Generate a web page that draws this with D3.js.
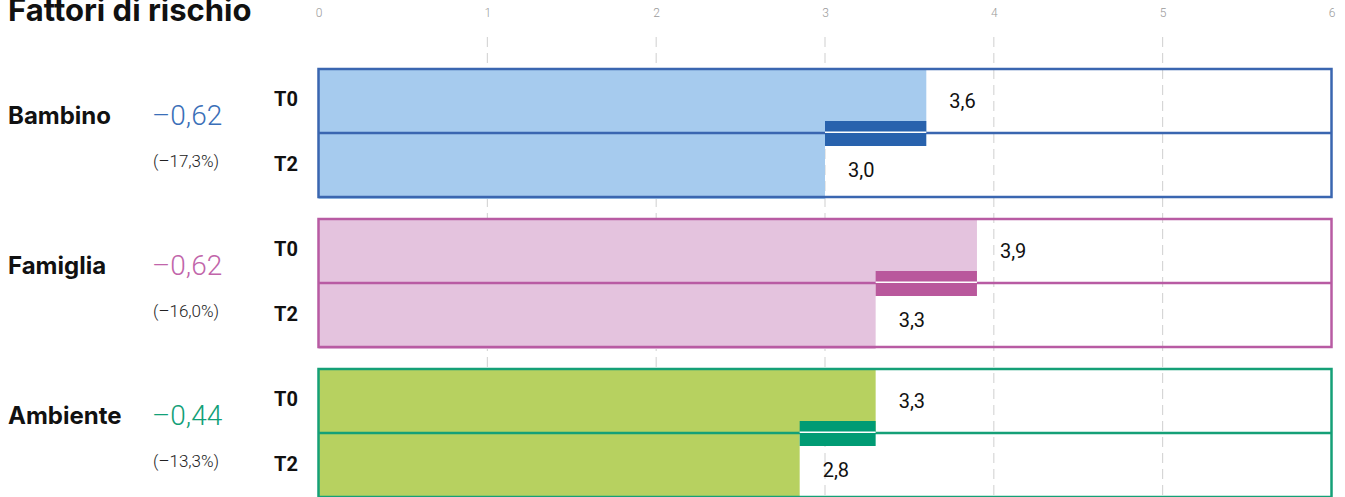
<!DOCTYPE html>
<html lang="it">
<head>
<meta charset="utf-8">
<title>Fattori di rischio</title>
<script src="https://cdn.jsdelivr.net/npm/d3@7"></script>
<style>
  body { margin: 0; background: #fff; }
  svg { display: block; }
</style>
</head>
<body>
<script>
// dati
var categorie = ["Bambino", "Famiglia", "Ambiente"];
var valoriT0 = [3.6, 3.9, 3.3];
var valoriT2 = [3.0, 3.3, 2.85];
var etichetteT0 = ["3,6", "3,9", "3,3"];
var etichetteT2 = ["3,0", "3,3", "2,8"];
var differenze = ["\u20130,62", "\u20130,62", "\u20130,44"];
var percentuali = ["(\u201317,3%)", "(\u201316,0%)", "(\u201313,3%)"];
var tempi = ["T0", "T2"];
var ticks = [0, 1, 2, 3, 4, 5, 6];

var colori = [
  { bordo: "#3a66b0", riemp: "#a6cbee", marca: "#2862ad", testo: "#3a6fb8" },
  { bordo: "#b85ba3", riemp: "#e4c3de", marca: "#b9589c", testo: "#c165aa" },
  { bordo: "#15a077", riemp: "#b7d160", marca: "#009b74", testo: "#12a078" }
];

var w = 1345, h = 497;
var svg = d3.select("body").append("svg").attr("width", w).attr("height", h);

var x = d3.scaleLinear().domain([0, 6]).range([318.5, 1331.5]);
// tre gruppi alti 128px, passo 150px
var y = d3.scaleBand().domain(categorie).range([69, 497]).paddingInner(22 / 150).paddingOuter(0);
var rowH = y.bandwidth() / 2;

// titolo
svg.append("text")
  .attr("x", 8).attr("y", 21)
  .attr("font-family", "Inter, sans-serif")
  .attr("font-weight", 700)
  .attr("font-size", "31px")
  .attr("fill", "#111")
  .text("Fattori di rischio");

// asse in alto
var axis = d3.axisTop(x).tickValues(ticks).tickSize(0).tickFormat(d3.format("d"));
var gx = svg.append("g").attr("transform", "translate(0,20)").call(axis);
gx.select(".domain").remove();
gx.selectAll("text")
  .attr("font-family", "Roboto, sans-serif")
  .attr("font-weight", 300)
  .attr("font-size", "12px")
  .attr("fill", "#9a9a9a");

// griglia tratteggiata
svg.append("g").selectAll("line")
  .data(ticks.slice(1, 6))
  .enter().append("line")
  .attr("x1", function(d) { return x(d); })
  .attr("x2", function(d) { return x(d); })
  .attr("y1", 37).attr("y2", h)
  .attr("stroke", "#cfcfcf")
  .attr("stroke-width", 1)
  .attr("stroke-dasharray", "10,6");

var gruppi = svg.selectAll("g.gruppo")
  .data(categorie)
  .enter().append("g")
  .attr("class", "gruppo")
  .attr("transform", function(d) { return "translate(0," + y(d) + ")"; });

gruppi.each(function(cat, i) {
  var g = d3.select(this);
  var c = colori[i];
  var t0 = valoriT0[i], t2 = valoriT2[i];

  // barre riempite
  g.append("rect")
    .attr("x", x(0)).attr("y", 0)
    .attr("width", x(t0) - x(0)).attr("height", rowH)
    .attr("fill", c.riemp);
  g.append("rect")
    .attr("x", x(0)).attr("y", rowH)
    .attr("width", x(t2) - x(0)).attr("height", rowH + 2)
    .attr("fill", c.riemp);

  // riquadro e linea di mezzo
  g.append("rect")
    .attr("x", x(0)).attr("y", 0)
    .attr("width", x(6) - x(0)).attr("height", rowH * 2)
    .attr("fill", "none")
    .attr("stroke", c.bordo)
    .attr("stroke-width", 2.5);
  g.append("line")
    .attr("x1", x(0)).attr("x2", x(6))
    .attr("y1", rowH).attr("y2", rowH)
    .attr("stroke", c.bordo)
    .attr("stroke-width", 2.5);

  // marca della differenza
  g.append("rect")
    .attr("x", x(t2)).attr("y", rowH - 12)
    .attr("width", x(t0) - x(t2)).attr("height", 25)
    .attr("fill", c.marca);
  g.append("line")
    .attr("x1", x(t2)).attr("x2", x(t0))
    .attr("y1", rowH - 0.8).attr("y2", rowH - 0.8)
    .attr("stroke", "#fff")
    .attr("stroke-width", 1.6);

  // valori
  g.append("text")
    .attr("x", x(t0) + 23).attr("y", 32)
    .attr("dy", "0.35em")
    .attr("font-family", "Roboto, sans-serif")
    .attr("font-size", "20px")
    .attr("fill", "#111")
    .text(etichetteT0[i]);
  g.append("text")
    .attr("x", x(t2) + 23).attr("y", rowH + 37)
    .attr("dy", "0.35em")
    .attr("font-family", "Roboto, sans-serif")
    .attr("font-size", "20px")
    .attr("fill", "#111")
    .text(etichetteT2[i]);

  // etichette T0 / T2
  g.selectAll("text.tempo")
    .data(tempi)
    .enter().append("text")
    .attr("class", "tempo")
    .attr("x", 274)
    .attr("y", function(d, j) { return j === 0 ? 37 : rowH + 38; })
    .attr("font-family", "Roboto, sans-serif")
    .attr("font-weight", 700)
    .attr("font-size", "20px")
    .attr("fill", "#111")
    .text(function(d) { return d; });

  // categoria
  g.append("text")
    .attr("x", 8).attr("y", 55)
    .attr("font-family", "Inter, sans-serif")
    .attr("font-weight", 700)
    .attr("font-size", "24px")
    .attr("fill", "#111")
    .text(cat);

  // differenza e percentuale
  g.append("text")
    .attr("x", 152).attr("y", 56)
    .attr("font-family", "Roboto, sans-serif")
    .attr("font-weight", 300)
    .attr("font-size", "28px")
    .attr("fill", c.testo)
    .text(differenze[i]);
  g.append("text")
    .attr("x", 153).attr("y", 98)
    .attr("font-family", "Roboto, sans-serif")
    .attr("font-weight", 300)
    .attr("font-size", "17px")
    .attr("fill", "#222")
    .text(percentuali[i]);
});
</script>
</body>
</html>
